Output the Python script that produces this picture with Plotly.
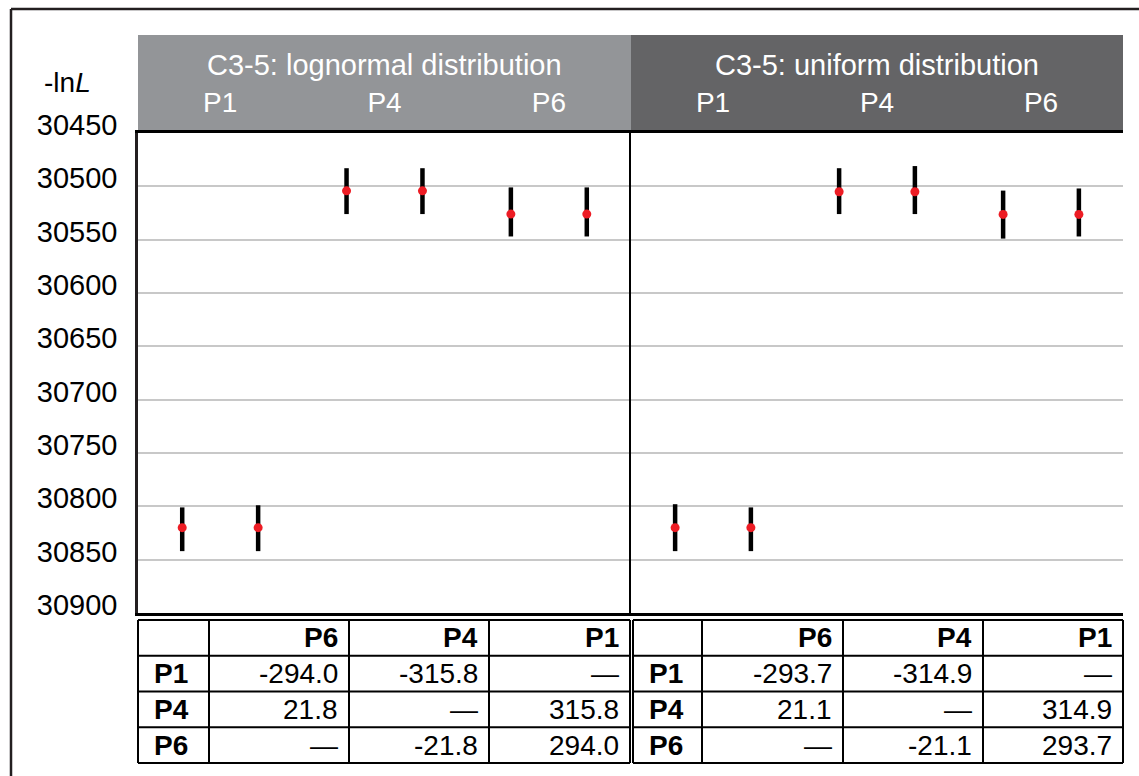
import plotly.graph_objects as go

FONT = "Liberation Sans, Arial, Helvetica, sans-serif"

# ---- data -------------------------------------------------------------
models = ["P1", "P4", "P6"]
panel_titles = ["C3-5: lognormal distribution", "C3-5: uniform distribution"]

# -lnL estimate and interval for two runs of each model (P1, P1, P4, P4, P6, P6)
lognormal_est = [30820.0, 30820.0, 30504.2, 30504.2, 30526.0, 30526.0]
lognormal_low = [30801.0, 30799.0, 30483.0, 30483.0, 30501.0, 30501.0]
lognormal_high = [30842.0, 30842.0, 30526.0, 30526.0, 30547.0, 30547.0]

uniform_est = [30820.0, 30820.0, 30505.1, 30505.1, 30526.3, 30526.3]
uniform_low = [30798.0, 30801.0, 30483.0, 30481.0, 30504.0, 30502.0]
uniform_high = [30842.0, 30842.0, 30526.0, 30526.0, 30549.0, 30547.0]

y_ticks = [30450, 30500, 30550, 30600, 30650, 30700, 30750, 30800, 30850, 30900]

# pairwise differences in -lnL (rows vs columns)
table_cols = ["P6", "P4", "P1"]
table_rows = ["P1", "P4", "P6"]
lognormal_diff = [[-294.0, -315.8, None], [21.8, None, 315.8], [None, -21.8, 294.0]]
uniform_diff = [[-293.7, -314.9, None], [21.1, None, 314.9], [None, -21.1, 293.7]]

# ---- page geometry (pixels) ------------------------------------------
W, H = 1139, 776
L, R, T, B = 138, 16, 133, 13
PW, PH = W - L - R, H - T - B
PLOT_BOTTOM = 613
TABLE_TOP = 620
ROW_H = 35.75


def px(xpix):
    return (xpix - L) / PW


def py(ypix):
    return (H - B - ypix) / PH


split = px(631)
header_colors = ["#939598", "#646466"]

fig = go.Figure()

panels = [
    (lognormal_est, lognormal_low, lognormal_high),
    (uniform_est, uniform_low, uniform_high),
]
for p, (est, low, high) in enumerate(panels):
    # two runs per model, placed either side of the model's slot centre
    xs = [k // 2 + 0.5 + (k % 2 - 0.5) * 0.462 for k in range(len(est))]
    fig.add_trace(
        go.Scatter(
            x=xs,
            y=est,
            mode="markers",
            marker=dict(color="#ed1c24", size=9, line=dict(width=0)),
            error_y=dict(
                type="data",
                symmetric=False,
                array=[h - e for h, e in zip(high, est)],
                arrayminus=[e - l for e, l in zip(est, low)],
                color="black",
                thickness=4.5,
                width=0,
            ),
            showlegend=False,
            hoverinfo="skip",
            xaxis="x" if p == 0 else "x2",
            yaxis="y" if p == 0 else "y2",
        )
    )

xaxis_common = dict(
    range=[0, 3],
    side="top",
    tickvals=[0.5, 1.5, 2.5],
    ticktext=models,
    tickfont=dict(family=FONT, size=28, color="white"),
    ticks="",
    ticklabelstandoff=7,
    showgrid=False,
    zeroline=False,
    showline=True,
    linecolor="black",
    linewidth=2.5,
    mirror=True,
    fixedrange=True,
)
yaxis_common = dict(
    range=[30900, 30450],
    tickvals=y_ticks,
    domain=[py(PLOT_BOTTOM), 1],
    showgrid=True,
    gridcolor="#c8c8c8",
    gridwidth=2,
    zeroline=False,
    fixedrange=True,
)

fig.update_layout(
    width=W,
    height=H,
    margin=dict(l=L, r=R, t=T, b=B, autoexpand=False),
    paper_bgcolor="white",
    plot_bgcolor="white",
    font=dict(family=FONT, color="black"),
    xaxis=dict(xaxis_common, domain=[0, split], anchor="y"),
    xaxis2=dict(xaxis_common, domain=[split, 1], anchor="y2"),
    yaxis=dict(
        yaxis_common,
        anchor="x",
        showticklabels=True,
        tickformat="d",
        tickfont=dict(family=FONT, size=29, color="black"),
        ticks="",
        ticklabelstandoff=12,
        ticklabelshift=8,
        showline=True,
        linecolor="#231f20",
        linewidth=2.5,
    ),
    yaxis2=dict(
        yaxis_common,
        anchor="x2",
        matches="y",
        showticklabels=False,
        showline=True,
        linecolor="black",
        linewidth=1.5,
    ),
)

shapes = []
annotations = []

# header bands above each panel
for p in range(2):
    x0, x1 = (0, split) if p == 0 else (split, 1)
    shapes.append(dict(type="rect", xref="paper", yref="paper", x0=x0, x1=x1,
                       y0=py(131), y1=py(35), fillcolor=header_colors[p],
                       line=dict(width=0), layer="below"))
# outer frame (top and left edges)
shapes.append(dict(type="line", xref="paper", yref="paper", x0=px(11), x1=px(1145),
                   y0=py(9), y1=py(9), line=dict(color="#231f20", width=2.5)))
shapes.append(dict(type="line", xref="paper", yref="paper", x0=px(11), x1=px(11),
                   y0=py(9), y1=py(782), line=dict(color="#231f20", width=2.5)))

for p, title in enumerate(panel_titles):
    xc = split / 2 if p == 0 else (split + 1) / 2
    annotations.append(dict(text=title, xref="paper", yref="paper", x=xc, y=py(65),
                            xanchor="center", yanchor="middle", showarrow=False,
                            font=dict(family=FONT, size=29, color="white")))
annotations.append(dict(text="-ln<i>L</i>", xref="paper", yref="paper", x=px(42), y=py(82),
                        xanchor="left", yanchor="middle", showarrow=False,
                        font=dict(family=FONT, size=28, color="black")))


def add_diff_table(diff, col_edges):
    """Grid lines and cell texts of one pairwise-difference table."""
    n_lines = len(table_rows) + 2
    bottom = TABLE_TOP + (n_lines - 1) * ROW_H
    line = dict(color="black", width=2)
    for k in range(n_lines):
        yk = TABLE_TOP + k * ROW_H
        shapes.append(dict(type="line", xref="paper", yref="paper",
                           x0=px(col_edges[0]), x1=px(col_edges[-1]),
                           y0=py(yk), y1=py(yk), line=line))
    for xe in col_edges:
        shapes.append(dict(type="line", xref="paper", yref="paper",
                           x0=px(xe), x1=px(xe), y0=py(TABLE_TOP), y1=py(bottom), line=line))

    def cell(text, row, col, bold=False):
        yc = TABLE_TOP + (row + 0.5) * ROW_H
        if col == 0:
            x, anchor = col_edges[0] + 14, "left"
        else:
            x, anchor = col_edges[col + 1] - 9, "right"
        annotations.append(dict(text=f"<b>{text}</b>" if bold else text,
                                xref="paper", yref="paper", x=px(x), y=py(yc),
                                xanchor=anchor, yanchor="middle", showarrow=False,
                                font=dict(family=FONT, size=28, color="black")))

    # header row: column model names
    for j, c in enumerate(table_cols):
        cell(c, 0, j + 1, bold=True)
    # body rows: row model name, then the differences
    for i, r in enumerate(table_rows):
        cell(r, i + 1, 0, bold=True)
        for j in range(len(table_cols)):
            v = diff[i][j]
            cell("—" if v is None else f"{v:.1f}", i + 1, j + 1)


add_diff_table(lognormal_diff, [138, 209, 349, 489, 630])
add_diff_table(uniform_diff, [633, 702, 843, 983, 1123])

fig.update_layout(shapes=shapes, annotations=annotations)

fig.write_html("out.html")
